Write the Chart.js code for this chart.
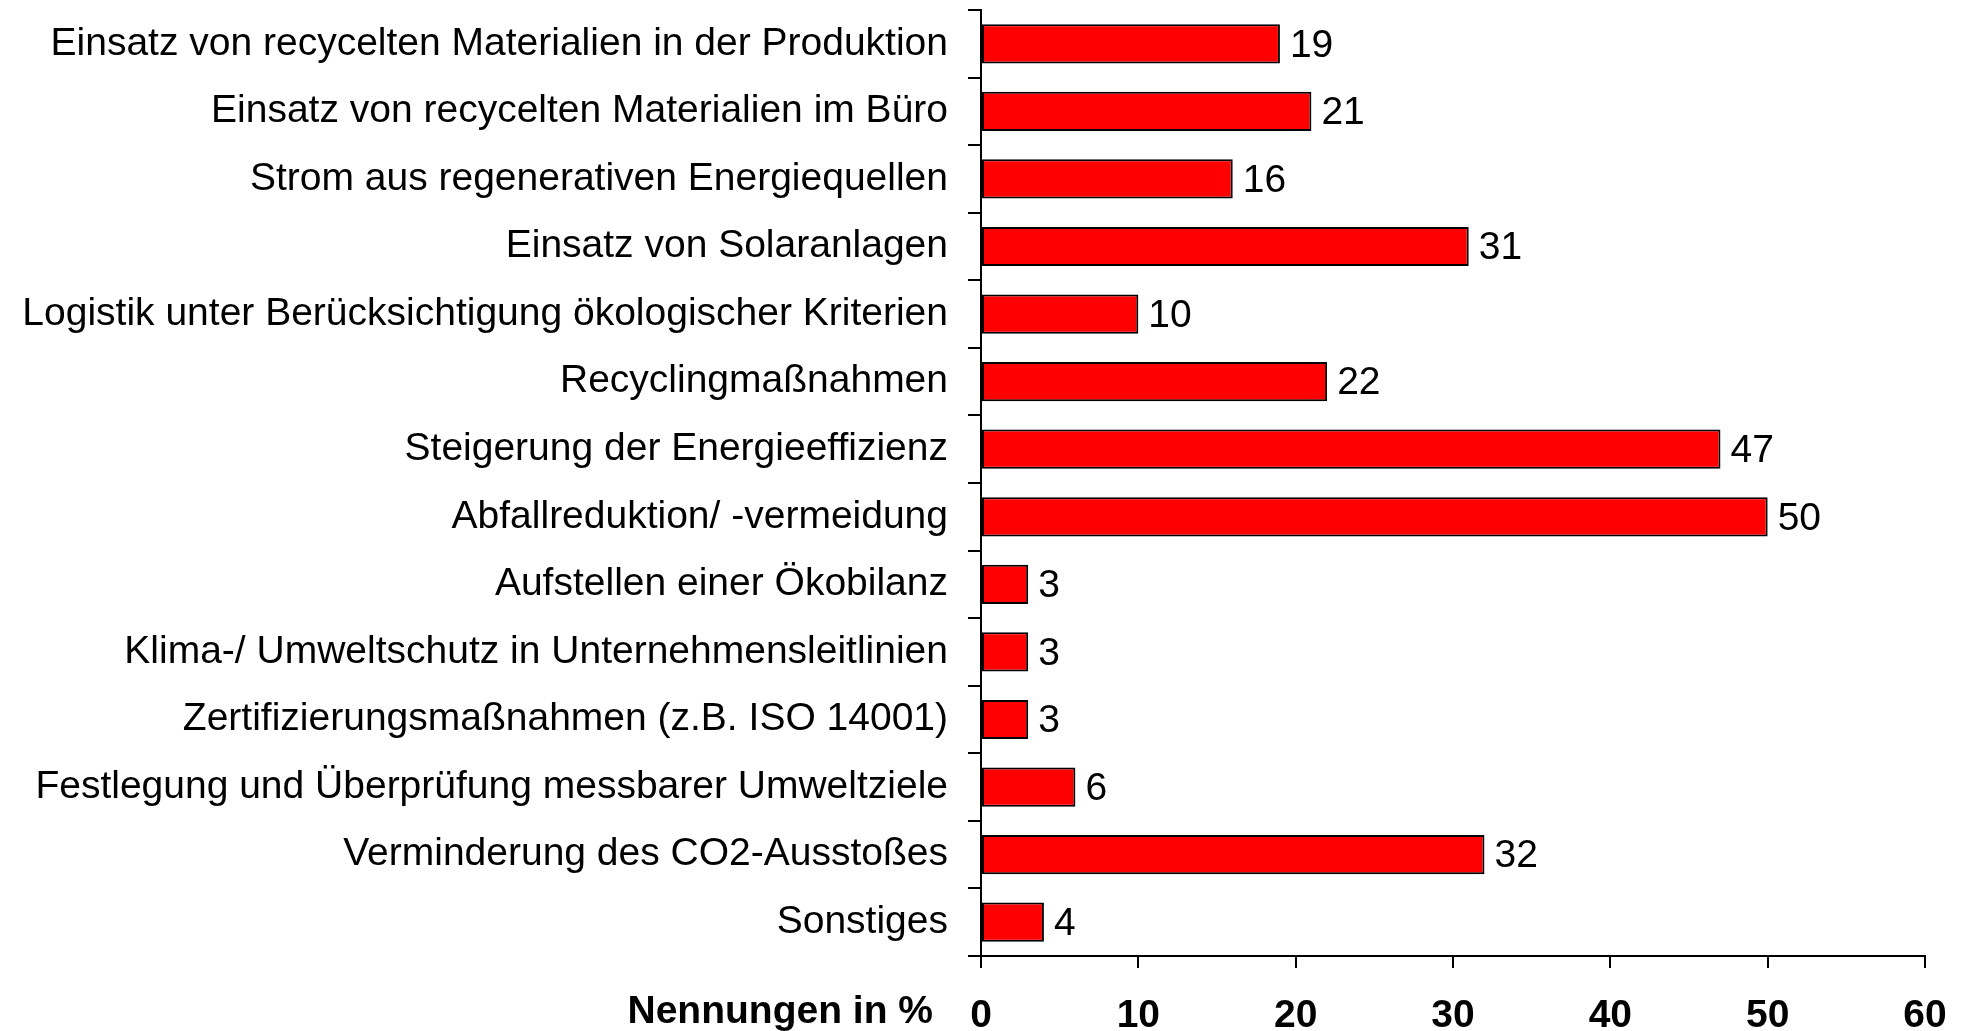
<!DOCTYPE html>
<html>
<head>
<meta charset="utf-8">
<script src="https://cdn.jsdelivr.net/npm/chart.js@4"></script>
<style>
  html, body { margin: 0; padding: 0; background: #fff; }
  #wrap { width: 1964px; height: 1031px; }
</style>
</head>
<body>
<div id="wrap"><canvas id="myChart" width="1964" height="1031"></canvas></div>
<script>
const categories = [
  'Einsatz von recycelten Materialien in der Produktion',
  'Einsatz von recycelten Materialien im Büro',
  'Strom aus regenerativen Energiequellen',
  'Einsatz von Solaranlagen',
  'Logistik unter Berücksichtigung ökologischer Kriterien',
  'Recyclingmaßnahmen',
  'Steigerung der Energieeffizienz',
  'Abfallreduktion/ -vermeidung',
  'Aufstellen einer Ökobilanz',
  'Klima-/ Umweltschutz in Unternehmensleitlinien',
  'Zertifizierungsmaßnahmen (z.B. ISO 14001)',
  'Festlegung und Überprüfung messbarer Umweltziele',
  'Verminderung des CO2-Ausstoßes',
  'Sonstiges'
];
const values = [19, 21, 16, 31, 10, 22, 47, 50, 3, 3, 3, 6, 32, 4];
const xTicks = [0, 10, 20, 30, 40, 50, 60];
const axisTitle = 'Nennungen in %';

const FONT = '"Liberation Sans", Arial, sans-serif';
const SIZE = 39;

// value labels right of each bar
const valueLabels = {
  id: 'valueLabels',
  afterDatasetsDraw(chart) {
    const ctx = chart.ctx;
    const meta = chart.getDatasetMeta(0);
    ctx.save();
    ctx.font = SIZE + 'px ' + FONT;
    ctx.fillStyle = '#000';
    ctx.textAlign = 'left';
    ctx.textBaseline = 'middle';
    meta.data.forEach((bar, i) => {
      ctx.fillText(String(values[i]), bar.x + 10, bar.y + 2);
    });
    ctx.restore();
  }
};

// axis title on the tick label row, left of the 0
const sideTitle = {
  id: 'sideTitle',
  afterDraw(chart) {
    const ctx = chart.ctx;
    const x = chart.scales.x;
    ctx.save();
    ctx.font = 'bold ' + SIZE + 'px ' + FONT;
    ctx.fillStyle = '#000';
    ctx.textAlign = 'right';
    ctx.textBaseline = 'top';
    ctx.fillText(axisTitle, x.left - 48, x.top + 12 + 25);
    ctx.restore();
  }
};

const ctx = document.getElementById('myChart').getContext('2d');
new Chart(ctx, {
  type: 'bar',
  data: {
    labels: categories,
    datasets: [{
      data: values,
      backgroundColor: '#ff0000',
      borderColor: '#000000',
      borderWidth: 2,
      borderSkipped: false,
      barPercentage: 0.58,
      categoryPercentage: 1
    }]
  },
  plugins: [valueLabels, sideTitle],
  options: {
    indexAxis: 'y',
    responsive: false,
    animation: false,
    layout: { padding: { top: 10, right: 39, left: 0, bottom: 0 } },
    plugins: {
      legend: { display: false },
      tooltip: { enabled: false }
    },
    scales: {
      x: {
        min: 0,
        max: 60,
        afterBuildTicks(scale) {
          scale.ticks = xTicks.map(v => ({ value: v }));
        },
        afterFit(scale) {
          scale.height = 75;
          scale.paddingLeft = 0;
          scale.paddingRight = 0;
        },
        grid: {
          drawOnChartArea: false,
          tickLength: 12,
          color: '#000',
          lineWidth: 2
        },
        border: { color: '#000', width: 2 },
        ticks: {
          color: '#000',
          padding: 25,
          maxRotation: 0,
          font: { family: FONT, size: SIZE, weight: 'bold' }
        }
      },
      y: {
        afterFit(scale) {
          scale.width = 981;
          scale.paddingTop = 0;
          scale.paddingBottom = 0;
        },
        grid: {
          drawOnChartArea: false,
          offset: true,
          tickLength: 13,
          color: '#000',
          lineWidth: 2
        },
        border: { color: '#000', width: 2 },
        ticks: {
          color: '#000',
          padding: 20,
          autoSkip: false,
          font: { family: FONT, size: SIZE }
        }
      }
    }
  }
});
</script>
</body>
</html>
